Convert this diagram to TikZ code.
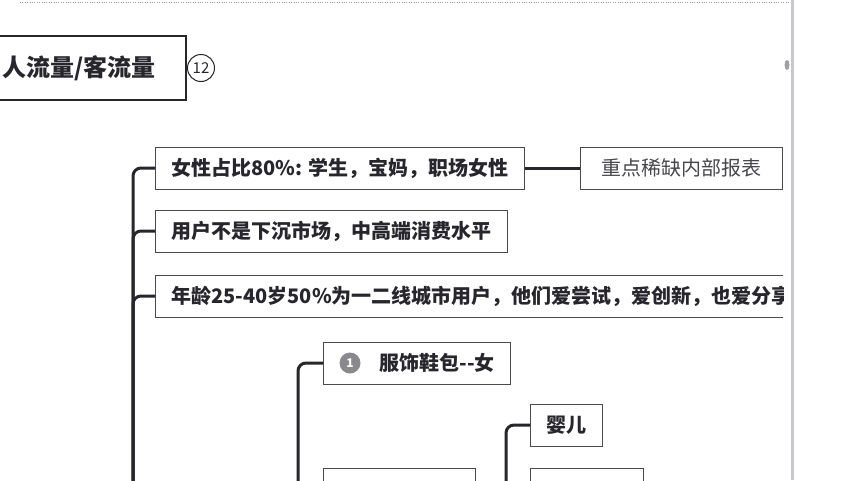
\documentclass[tikz,border=0pt]{standalone}
\usepackage{fontspec}
\setmainfont{Noto Sans CJK SC}
\usetikzlibrary{positioning}

\definecolor{ink}{HTML}{26262C}
\definecolor{rim}{HTML}{4A4A50}
\definecolor{bar}{HTML}{C8C8CC}
\definecolor{dot}{HTML}{9A9A9A}
\definecolor{badge}{HTML}{8A8A8E}

\begin{document}
\begin{tikzpicture}
    [ x=1pt, y=-1pt
    , topic/.style={draw=rim, line width=0.8pt, minimum height=42pt, inner xsep=16pt,
        inner ysep=0pt, text=ink, anchor=west, font=\fontsize{20}{20}\selectfont\bfseries}
    , note/.style={topic, text=ink!85, font=\fontsize{20}{20}\selectfont}
    , badgenum/.style={circle, fill=badge, text=white, minimum size=21pt, inner sep=0pt,
        font=\fontsize{12}{12}\selectfont\bfseries}
    , link/.style={draw=ink, line width=3pt, rounded corners=8pt}
    ]
  \useasboundingbox (0,0) rectangle (852,480);
  \fill[white] (0,0) rectangle (852,480);
  \draw[bar, line width=3pt] (792,0) -- (792,480);
  \fill[bar!80!black] (787,65) ellipse (2.5 and 5);
  \draw[dot, dotted] (20,2) -- (790,2);
  \begin{scope}
    \clip (0,0) rectangle (783,480);
    % title
    \node[draw=ink, line width=2pt, minimum height=64pt, inner xsep=30pt, anchor=east,
      font=\fontsize{24}{24}\selectfont\bfseries, text=ink] (title) at (187,68) {人流量/客流量};
    \node[circle, draw=ink, line width=1pt, minimum size=27pt, inner sep=0pt,
      font=\fontsize{15}{15}\selectfont, text=ink] (num) at (201,68) {12};
    % first level
    \node[topic] (women) at (155,168) {女性占比80\%: 学生，宝妈，职场女性};
    \node[topic] (level) at (155,231) {用户不是下沉市场，中高端消费水平};
    \node[topic] (age) at (155,296) {年龄25-40岁50\%为一二线城市用户，他们爱尝试，爱创新，也爱分享};
    \node[note, minimum width=202pt] (report) at (580,168) {重点稀缺内部报表};
    % second level
    \node[topic] (wear) at (323,363) {\hspace*{40pt}服饰鞋包-{}-女};
    \node[badgenum] (one) at ([xshift=27pt]wear.west) {1};
    \node[topic] (baby) at (530,425) {婴儿};
    \node[topic, minimum width=152pt, anchor=north west] (blankleft) at (323,468) {};
    \node[topic, minimum width=113pt, anchor=north west] (blankright) at (530,468) {};
    % connectors
    \coordinate (trunk) at (133,495);
    \coordinate (wearstem) at (298,495);
    \coordinate (babystem) at (506,495);
    \draw[link] (women.west) -| (trunk);
    \draw[link] (level.west) -| (trunk);
    \draw[link] (age.west) -| (trunk);
    \draw[link] (women.east) -- (report.west);
    \draw[link] (wear.west) -| (wearstem);
    \draw[link] (baby.west) -| (babystem);
  \end{scope}
\end{tikzpicture}
\end{document}
